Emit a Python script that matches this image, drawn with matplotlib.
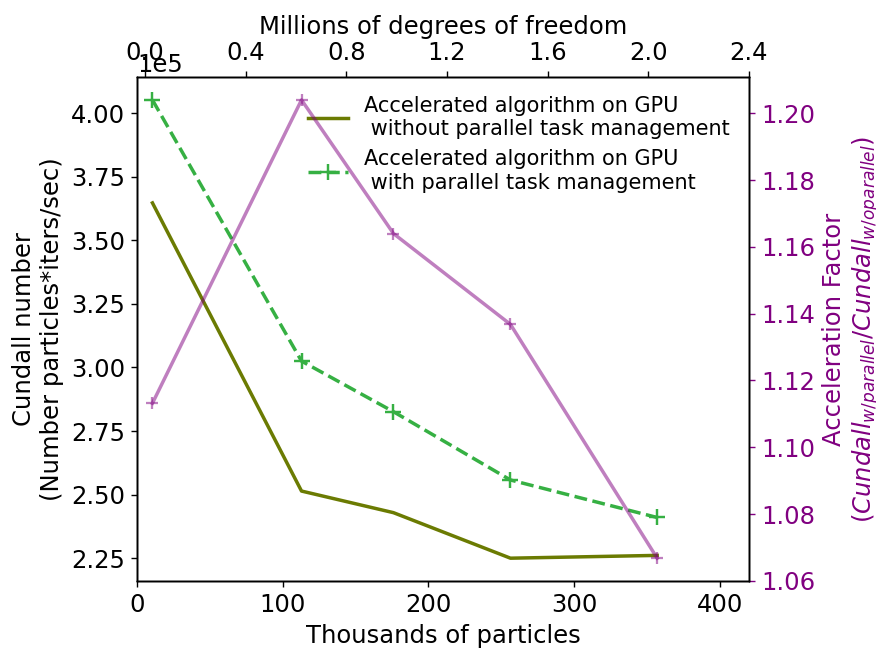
import matplotlib
matplotlib.use("Agg")
import matplotlib.pyplot as plt
from matplotlib.ticker import MultipleLocator

# thousands of particles per run
particles = [10.6, 112.9, 176.0, 256.3, 357.0]

# Cundall number (x 1e5)
cundall_serial = [3.647, 2.514, 2.429, 2.250, 2.261]
cundall_parallel = [4.052, 3.025, 2.826, 2.5575, 2.410]

# acceleration factor parallel / serial
accel = [1.1132, 1.2040, 1.1640, 1.1368, 1.0668]

dof_ticks = [0.0, 0.4, 0.8, 1.2, 1.6, 2.0, 2.4]

plt.rcParams['font.size'] = 14

fig, ax = plt.subplots(figsize=(7.008, 5.2), dpi=125)
fig.subplots_adjust(left=0.1564, right=0.855, bottom=0.106, top=0.8815)

l1, = ax.plot(particles, [v * 1e5 for v in cundall_serial], color='#6b7b02', lw=2,
              label='Accelerated algorithm on GPU\n without parallel task management')
l2, = ax.plot(particles, [v * 1e5 for v in cundall_parallel], color='#36b043', lw=2,
              ls='--', marker='+', ms=9, mew=1.4,
              label='Accelerated algorithm on GPU\n with parallel task management')
ax.set_xlim(0, 420)
ax.xaxis.set_major_locator(MultipleLocator(100))
ax.yaxis.set_major_locator(MultipleLocator(25000))
ax.ticklabel_format(axis='y', style='sci', scilimits=(0, 0))
ax.set_xlabel('Thousands of particles')
ax.set_ylabel('Cundall number\n(Number particles*iters/sec)')
ax.legend(handles=[l1, l2], loc='upper right', bbox_to_anchor=(1.0, 1.0),
          frameon=False, fontsize=12, handlelength=1.9)

ax2 = ax.twinx()
ax2.plot(particles, accel, color='purple', alpha=0.5, lw=2, marker='+', ms=7, mew=1.3)
ax2.set_ylabel('Acceleration Factor\n($Cundall_{w/parallel}/Cundall_{w/oparallel}$)',
               color='purple')
ax2.tick_params(axis='y', colors='purple')
ax2.spines['right'].set_color('black')

ax3 = ax.twiny()
ax3.set_xlim(-0.032, 2.4)
ax3.set_xticks(dof_ticks)
ax3.set_xlabel('Millions of degrees of freedom')

fig.savefig('out.png', dpi=125)
